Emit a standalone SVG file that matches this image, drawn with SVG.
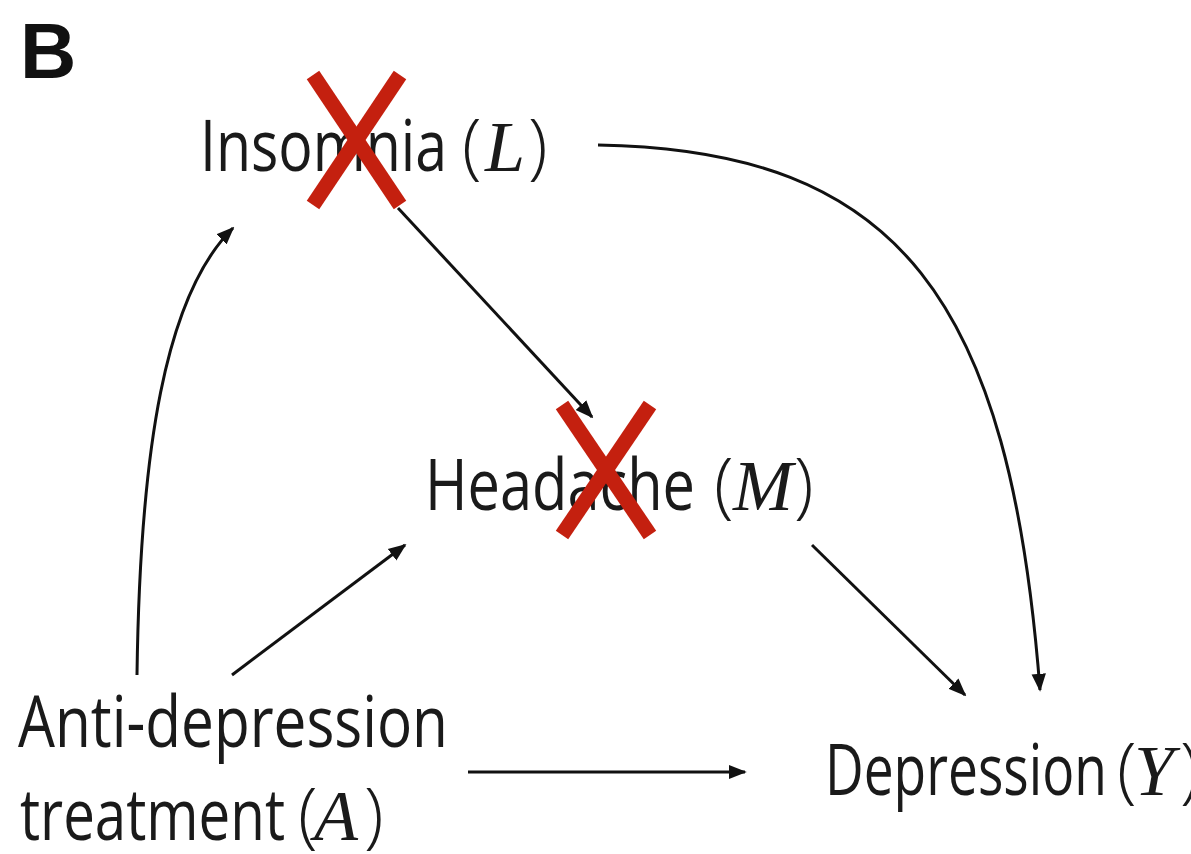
<svg xmlns="http://www.w3.org/2000/svg" width="1191" height="854" viewBox="0 0 1191 854">
<defs>
<marker id="ah" viewBox="0 0 10 10" refX="9" refY="5" markerWidth="6" markerHeight="6" orient="auto" markerUnits="strokeWidth">
<path d="M0,1 L10,5 L0,9 z" fill="#111"/>
</marker>
<style>
.lbl{font-family:"Open Sans","DejaVu Sans",sans-serif;font-size:72px;fill:#1a1a1a}
.var{font-family:"Liberation Serif","DejaVu Serif",serif;font-style:italic;font-size:72px}
.par{font-family:"Open Sans","DejaVu Sans",sans-serif;font-weight:300;font-size:72px}
.edge{fill:none;stroke:#111;stroke-width:3;marker-end:url(#ah)}
.x{stroke:#c4200f;stroke-width:15;stroke-linecap:butt}
</style>
</defs>
<rect width="1191" height="854" fill="#fff"/>
<text x="20" y="78" font-family="Liberation Sans, Arial, sans-serif" font-weight="bold" font-size="78" fill="#111">B</text>
<g id="edges">
<path class="edge" d="M137,675 C140,450 165,295 233,228"/>
<path class="edge" d="M232,675 L405,545"/>
<path class="edge" d="M398,208 L592,417"/>
<path class="edge" d="M598,145 C900,150 1010,300 1040,690"/>
<path class="edge" d="M812,545 L965,695"/>
<path class="edge" d="M468,772 L745,772"/>
</g>
<g id="node-L">
<text class="lbl" y="171"><tspan x="200" textLength="247" lengthAdjust="spacingAndGlyphs">Insomnia</tspan><tspan class="par" x="462">(</tspan><tspan class="var" x="485">L</tspan><tspan class="par" x="528">)</tspan></text>
<line class="x" x1="313" y1="75" x2="400" y2="205"/>
<line class="x" x1="400" y1="75" x2="313" y2="205"/>
</g>
<g id="node-M">
<text class="lbl" y="510"><tspan x="425" textLength="270" lengthAdjust="spacingAndGlyphs">Headache</tspan><tspan class="par" x="714">(</tspan><tspan class="var" x="733">M</tspan><tspan class="par" x="794">)</tspan></text>
<line class="x" x1="562" y1="405" x2="650" y2="535"/>
<line class="x" x1="650" y1="405" x2="562" y2="535"/>
</g>
<g id="node-A">
<text class="lbl" x="18" y="747" textLength="430" lengthAdjust="spacingAndGlyphs">Anti-depression</text>
<text class="lbl" y="840"><tspan x="20" textLength="265" lengthAdjust="spacingAndGlyphs">treatment</tspan><tspan class="par" x="298">(</tspan><tspan class="var" x="314">A</tspan><tspan class="par" x="364">)</tspan></text>
</g>
<g id="node-Y">
<text class="lbl" y="795"><tspan x="825" textLength="282" lengthAdjust="spacingAndGlyphs">Depression</tspan><tspan class="par" x="1117">(</tspan><tspan class="var" x="1134">Y</tspan><tspan class="par" x="1180">)</tspan></text>
</g>
</svg>
